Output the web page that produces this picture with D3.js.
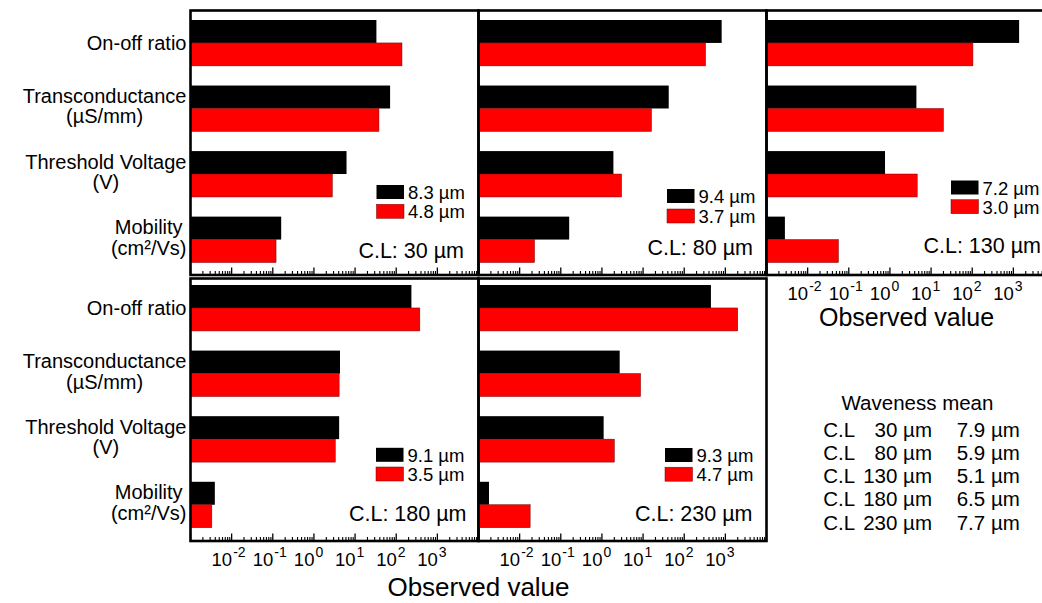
<!DOCTYPE html>
<html>
<head>
<meta charset="utf-8">
<script src="https://cdn.jsdelivr.net/npm/d3@7"></script>
<style>
  body { margin: 0; background: #fff; }
  svg { display: block; }
  text { font-family: "Liberation Sans", Arial, Helvetica, sans-serif; fill: #000; }
</style>
</head>
<body>
<svg id="chart" width="1042" height="603"></svg>
<script>
// ---- data ----
const metrics = ["On-off ratio", "Transconductance", "Threshold Voltage", "Mobility"];
const metricUnits = ["", "(µS/mm)", "(V)", "(cm²/Vs)"];
const channelLengths = [30, 80, 130, 180, 230];          // C.L, µm
const wavenessBlack = ["8.3", "9.4", "7.2", "9.1", "9.3"]; // µm, black series
const wavenessRed = ["4.8", "3.7", "3.0", "3.5", "4.7"];   // µm, red series
const wavenessMean = ["7.9", "5.9", "5.1", "6.5", "7.7"];  // µm
// per channel length: [on-off ratio, transconductance, threshold voltage, mobility]
const valuesBlack = [
  [33, 71, 6.2, 0.16],
  [813, 42, 1.9, 0.16],
  [1380, 4.4, 0.76, 0.0028],
  [234, 4.3, 4.1, 0.0039],
  [446, 2.7, 1.1, 0.0018]
];
const valuesRed = [
  [138, 38, 2.8, 0.12],
  [330, 16, 3.0, 0.023],
  [104, 20, 4.6, 0.056],
  [375, 4.1, 3.3, 0.0033],
  [2000, 8.7, 2.0, 0.018]
];
const tickExponents = [-2, -1, 0, 1, 2, 3];
const axisTitle = "Observed value";
const tableTitle = "Waveness mean";

// ---- layout ----
const FONT = 20.5;
const LABEL_FONT = 20;
const colX = [190.5, 478.5, 766.5];
const panelW = 288;
const rows = [
  { top: 10.5, bottom: 275, barTop: 20, barBottom: 262.5 },
  { top: 278.5, bottom: 541, barTop: 285, barBottom: 527.7 }
];
const panelCells = [[0, 0], [0, 1], [0, 2], [1, 0], [1, 1]];
const labelledAxis = [false, false, true, true, true];
const legendPos = [[186, 174.5, 19.3], [188.5, 178.5, 20], [184.5, 170, 19.2], [185.5, 169.3, 19.2], [186.5, 169.5, 19.2]];
const clPos = [[14.5, 17], [13.5, 20], [13.5, 22], [12, 20], [14, 20.5]];
const BLACK = "#000000", RED = "#ff0000";

const svg = d3.select("#chart");

// width of a string at a given size
function textWidth(str, size) {
  const el = svg.append("text").attr("font-size", size).text(str);
  const w = el.node().getComputedTextLength();
  el.remove();
  return w;
}

const TICK_FONT = 18.5, SUP_FONT = 14;
const tenWidth = textWidth("10", TICK_FONT);

panelCells.forEach(([r, c], i) => {
  const row = rows[r];
  const x0 = colX[c];
  const x = d3.scaleLog().domain([1e-3, 1e4]).range([x0, x0 + panelW]);
  const y = d3.scaleBand().domain(metrics).range([row.barTop, row.barBottom]).paddingInner(0.3).paddingOuter(0);
  const sub = d3.scaleBand().domain(["black", "red"]).range([0, y.bandwidth()]);
  const g = svg.append("g");

  metrics.forEach((m, k) => {
    [["black", valuesBlack[i][k], BLACK], ["red", valuesRed[i][k], RED]].forEach(([key, v, col]) => {
      g.append("rect")
        .attr("x", x(1e-3))
        .attr("y", y(m) + sub(key))
        .attr("width", x(v) - x(1e-3))
        .attr("height", sub.bandwidth())
        .attr("fill", col)
        .attr("stroke", key === "red" ? "#7a0000" : "none")
        .attr("stroke-width", 0.5);
    });
  });

  // log ticks pointing inward from the bottom edge
  const majors = d3.range(-3, 5).map(e => Math.pow(10, e));
  const minors = [];
  d3.range(-3, 4).forEach(e => d3.range(2, 10).forEach(m => minors.push(m * Math.pow(10, e))));
  g.selectAll(".minor").data(minors).join("line")
    .attr("x1", d => x(d)).attr("x2", d => x(d))
    .attr("y1", row.bottom).attr("y2", row.bottom - 4)
    .attr("stroke", "#000").attr("stroke-width", 1.1);
  g.selectAll(".major").data(majors).join("line")
    .attr("x1", d => x(d)).attr("x2", d => x(d))
    .attr("y1", row.bottom).attr("y2", row.bottom - 7.5)
    .attr("stroke", "#000").attr("stroke-width", 1.3);

  if (labelledAxis[i]) {
    tickExponents.forEach(e => {
      const tx = x(Math.pow(10, e));
      const t = g.append("text").attr("x", tx + 0.5 - tenWidth).attr("y", row.bottom + 25)
        .attr("font-size", TICK_FONT);
      t.append("tspan").text("10");
      t.append("tspan").attr("dx", 1).attr("dy", -9).attr("font-size", SUP_FONT).text(String(e));
    });
  }

  // legend
  const [ldx, ldy, lgap] = legendPos[i];
  [[BLACK, wavenessBlack[i]], [RED, wavenessRed[i]]].forEach(([col, txt], j) => {
    const sy = row.top + ldy + j * lgap;
    g.append("rect").attr("x", x0 + ldx).attr("y", sy).attr("width", 27.5).attr("height", 14)
      .attr("fill", col).attr("stroke", col === RED ? "#7a0000" : "none").attr("stroke-width", 0.5);
    g.append("text").attr("x", x0 + ldx + 31.5).attr("y", sy + 14)
      .attr("font-size", 18.5).text(`${txt} µm`);
  });

  // channel length tag
  g.append("text").attr("x", x0 + panelW - clPos[i][0]).attr("y", row.bottom - clPos[i][1])
    .attr("text-anchor", "end").attr("font-size", 21.5).text(`C.L: ${channelLengths[i]} µm`);

  // frame
  g.append("rect").attr("x", x0).attr("y", row.top).attr("width", panelW).attr("height", row.bottom - row.top)
    .attr("fill", "none").attr("stroke", "#000").attr("stroke-width", 2.6);
});

// category labels: one text block per metric, lines centred on each other, block right-aligned
rows.forEach(row => {
  const y = d3.scaleBand().domain(metrics).range([row.barTop, row.barBottom]).paddingInner(0.3).paddingOuter(0);
  const rightEdge = 186.5;
  metrics.forEach((m, k) => {
    const cy = y(m) + y.bandwidth() / 2;
    const lines = metricUnits[k] ? [m, metricUnits[k]] : [m];
    const cx = rightEdge - d3.max(lines, t => textWidth(t, LABEL_FONT)) / 2;
    lines.forEach((line, j) => {
      const base = lines.length === 1 ? cy + 7 : cy - 5.5 + j * 20.5;
      svg.append("text").attr("x", cx).attr("y", base)
        .attr("text-anchor", "middle").attr("font-size", LABEL_FONT).text(line);
    });
  });
});

// axis titles
svg.append("text").attr("x", 906.5).attr("y", 326).attr("text-anchor", "middle")
  .attr("font-size", 25).text(axisTitle);
svg.append("text").attr("x", 478.5).attr("y", 596).attr("text-anchor", "middle")
  .attr("font-size", 26).text(axisTitle);

// waveness mean table
svg.append("text").attr("x", 841.5).attr("y", 410).attr("font-size", FONT).text(tableTitle);
channelLengths.forEach((cl, i) => {
  const by = 436.7 + i * 23.2;
  svg.append("text").attr("x", 823.3).attr("y", by).attr("font-size", FONT).text("C.L");
  svg.append("text").attr("x", 932).attr("y", by).attr("text-anchor", "end").attr("font-size", FONT).text(`${cl} µm`);
  svg.append("text").attr("x", 956.7).attr("y", by).attr("font-size", FONT).text(`${wavenessMean[i]} µm`);
});
</script>
</body>
</html>
